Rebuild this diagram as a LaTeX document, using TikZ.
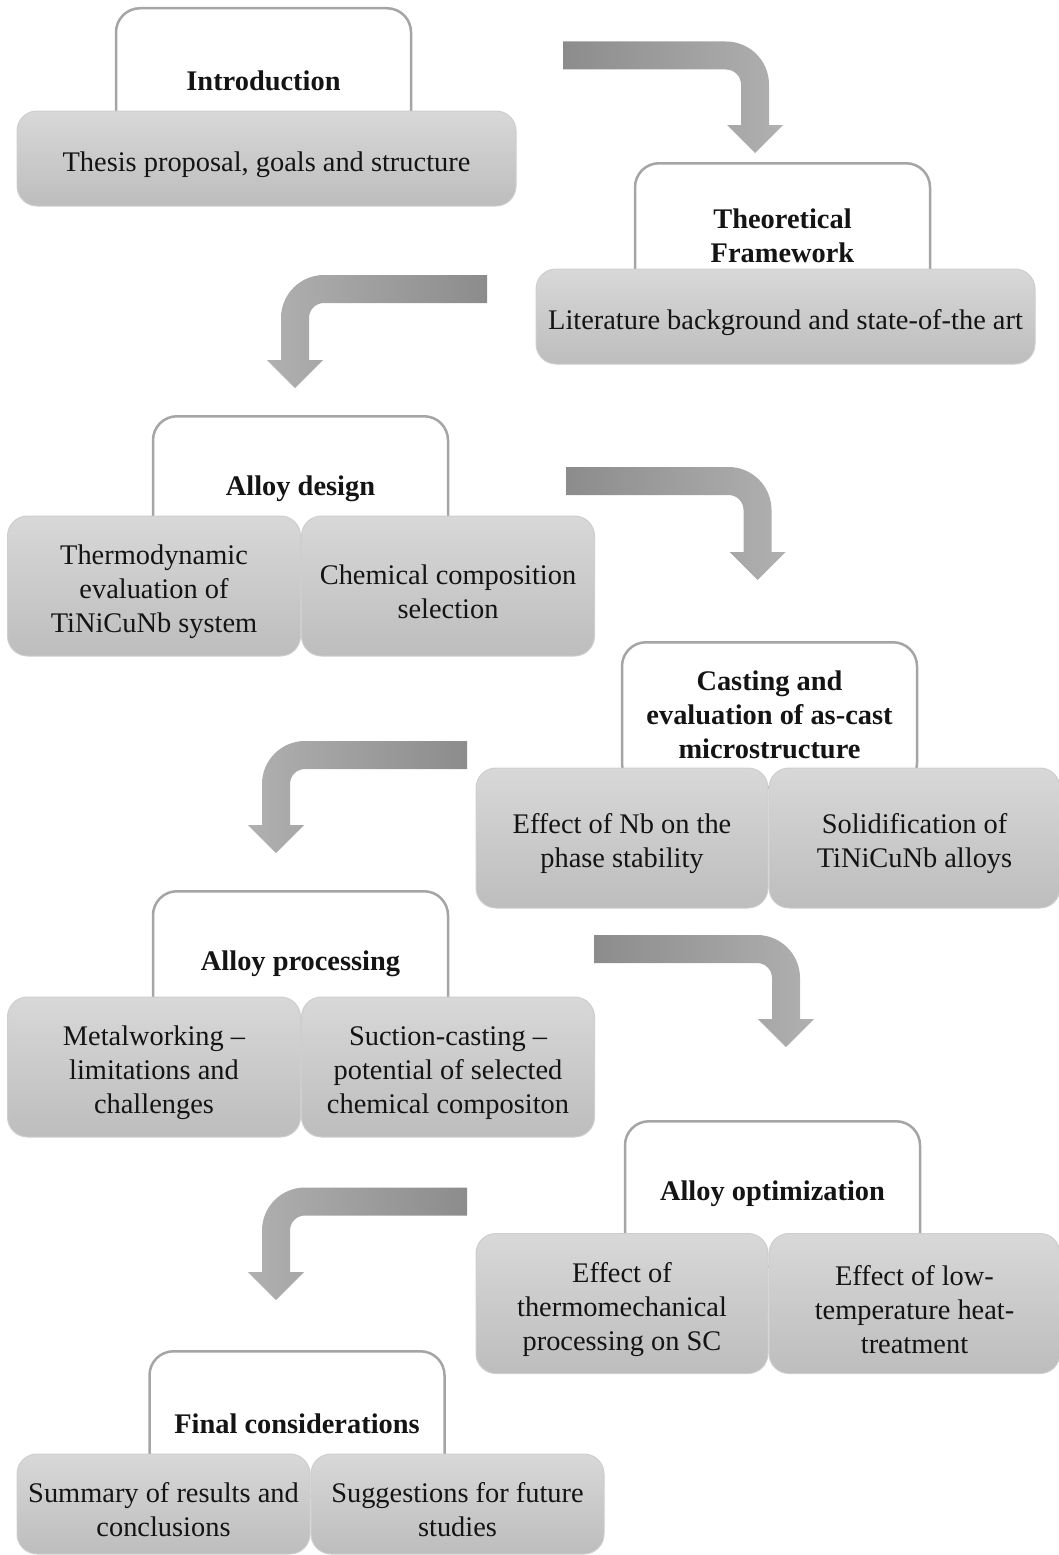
\documentclass[tikz,border=0pt]{standalone}
\usepackage{fontspec}
\setmainfont{Liberation Serif}
\usetikzlibrary{calc,positioning}
\definecolor{headline}{RGB}{165,165,165}
\definecolor{boxtop}{RGB}{216,216,216}
\definecolor{boxbottom}{RGB}{189,189,189}
\definecolor{boxline}{RGB}{206,206,206}
\definecolor{flowdark}{RGB}{140,140,140}
\definecolor{flowlight}{RGB}{176,176,176}
\definecolor{ink}{RGB}{20,20,20}
\newcommand{\boxfont}{\fontsize{28.4pt}{34pt}\selectfont}
\newcommand{\lift}{\rule{0pt}{32pt}}
% bent block arrow: #1 shading, #2 tail, #3 tip, #4 = 1 (turns right) or -1 (turns left)
\newcommand{\bentarrow}[4]{%
  \path[#1] ($(#2)+(0,-14)$) -- ($(#2 -| #3)+({(#4)*(14-43)},-14)$)
    arc[start angle=90, end angle={90-90*(#4)}, radius=43pt]
    -- ($(#3)+({(#4)*14},-28)$) -- ++({(#4)*14},0) -- (#3)
    -- ++({-(#4)*28},-28) -- ++({(#4)*14},0)
    -- ($(#2 -| #3)+({-(#4)*14},29)$)
    arc[start angle={90-90*(#4)}, end angle=90, radius=15pt]
    -- ($(#2)+(0,14)$) -- cycle;}

\begin{document}
\begin{tikzpicture}[x=1pt, y=-1pt,
  stage/.style={draw=headline, line width=2.5pt, fill=white, rounded corners=24pt,
    minimum width=295pt, minimum height=145pt, anchor=north, align=center,
    font=\boxfont\bfseries, text=ink},
  part/.style={draw=boxline, line width=1pt, top color=boxtop, bottom color=boxbottom,
    rounded corners=20pt, minimum width=293pt, minimum height=140pt,
    align=center, font=\boxfont, text=ink, inner sep=2pt},
  wide/.style={part, minimum width=499pt, minimum height=95pt},
  flowR/.style={left color=flowdark, right color=flowlight},
  flowL/.style={left color=flowlight, right color=flowdark}
]
  \useasboundingbox (0,0) rectangle (1059,1555);
  % Headers
  \node[stage] (intro) at (263.5,7) {Introduction};
  \node[stage] (theory) at (782.5,162) {Theoretical\\Framework};
  \node[stage] (design) at (300.5,415) {Alloy design};
  \node[stage] (casting) at (769.5,641) {Casting and\\evaluation of as-cast\\microstructure};
  \node[stage] (processing) at (300.5,890) {Alloy processing};
  \node[stage] (optim) at (772.5,1120) {Alloy optimization};
  \node[stage] (final) at (297,1350) {Final considerations};
  % Contents
  \node[wide] (intro-a) at (266.5,158.5) {\lift Thesis proposal, goals and structure};
  \node[wide] (theory-a) at (785.5,316.5) {\lift Literature background and state-of-the art};
  \node[part] (design-a) at (154,586) {\lift Thermodynamic\\evaluation of\\TiNiCuNb system};
  \node[part, right=0pt of design-a] (design-b) {\lift Chemical composition\\selection};
  \node[part, minimum width=292pt] (casting-a) at (622,838) {\lift Effect of Nb on the\\phase stability};
  \node[part, minimum width=291pt, right=0pt of casting-a] (casting-b) {\lift Solidification of\\TiNiCuNb alloys};
  \node[part] (processing-a) at (154,1067) {\lift Metalworking –\\limitations and\\challenges};
  \node[part, right=0pt of processing-a] (processing-b) {\lift Suction-casting –\\potential of selected\\chemical compositon};
  \node[part, minimum width=292pt] (optim-a) at (622,1303.5) {\lift Effect of\\thermomechanical\\processing on SC};
  \node[part, minimum width=291pt, right=0pt of optim-a] (optim-b) {\lift Effect of low-\\temperature heat-\\treatment};
  \node[part, minimum height=100pt] (final-a) at (163.5,1504) {\lift Summary of results and\\conclusions};
  \node[part, minimum height=100pt, right=0pt of final-a] (final-b) {\lift Suggestions for future\\studies};
  % Arrows
  \coordinate (arr1-tail) at (563,55.5);
  \coordinate (arr1-tip) at (755,153);
  \coordinate (arr2-tail) at (487,289);
  \coordinate (arr2-tip) at (295,388);
  \coordinate (arr3-tail) at (566,481);
  \coordinate (arr3-tip) at (757.5,580);
  \coordinate (arr4-tail) at (467,755);
  \coordinate (arr4-tip) at (276,853);
  \coordinate (arr5-tail) at (594,949);
  \coordinate (arr5-tip) at (786,1047);
  \coordinate (arr6-tail) at (467,1201.5);
  \coordinate (arr6-tip) at (276,1300);
  \bentarrow{flowR}{arr1-tail}{arr1-tip}{1}
  \bentarrow{flowL}{arr2-tail}{arr2-tip}{-1}
  \bentarrow{flowR}{arr3-tail}{arr3-tip}{1}
  \bentarrow{flowL}{arr4-tail}{arr4-tip}{-1}
  \bentarrow{flowR}{arr5-tail}{arr5-tip}{1}
  \bentarrow{flowL}{arr6-tail}{arr6-tip}{-1}
\end{tikzpicture}
\end{document}
